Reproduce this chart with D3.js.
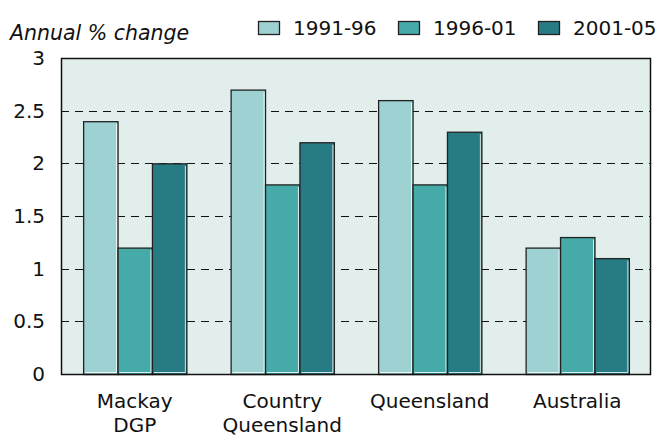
<!DOCTYPE html>
<html>
<head>
<meta charset="utf-8">
<script src="https://cdn.jsdelivr.net/npm/d3@7"></script>
<style>
  body { margin: 0; background: #fff; }
  text { font-family: "DejaVu Sans", sans-serif; fill: #111; }
</style>
</head>
<body>
<svg width="659" height="437"></svg>
<script>
const categories = [["Mackay", "DGP"], ["Country", "Queensland"], ["Queensland"], ["Australia"]];
const seriesNames = ["1991-96", "1996-01", "2001-05"];
const s1991 = [2.4, 2.7, 2.6, 1.2];
const s1996 = [1.2, 1.8, 1.8, 1.3];
const s2001 = [2.0, 2.2, 2.3, 1.1];
const yTicks = [0, 0.5, 1, 1.5, 2, 2.5, 3];
const colors = ["#9ed1d1", "#45aaa8", "#277c84"];

const series = [s1991, s1996, s2001];
const margin = {left: 61, right: 8, top: 58, bottom: 63};
const width = 659 - margin.left - margin.right;
const height = 437 - margin.top - margin.bottom;

const svg = d3.select("svg");
const g = svg.append("g").attr("transform", `translate(${margin.left},${margin.top})`);

const x0 = d3.scaleBand().domain(d3.range(categories.length)).range([0, width]).paddingInner(0.3).paddingOuter(0.15);
const x1 = d3.scaleBand().domain(d3.range(seriesNames.length)).range([0, x0.bandwidth()]);
const y = d3.scaleLinear().domain([0, 3]).range([height, 0]);

// fundo
g.append("rect").attr("width", width).attr("height", height).attr("fill", "#e1eeec");

// grelha tracejada
g.selectAll("line.grid").data(yTicks.filter(d => d > 0 && d < 3)).enter()
  .append("line")
  .attr("x1", 0).attr("x2", width)
  .attr("y1", d => Math.round(y(d)) + 0.5).attr("y2", d => Math.round(y(d)) + 0.5)
  .attr("stroke", "#111").attr("stroke-dasharray", "8,6");

// barras
categories.forEach((c, i) => {
  series.forEach((s, j) => {
    const bx = x0(i) + x1(j), bw = x1.bandwidth();
    g.append("rect")
      .attr("x", bx + 0.5).attr("y", y(s[i]) + 0.5)
      .attr("width", bw).attr("height", height - y(s[i]))
      .attr("fill", colors[j]).attr("stroke", "#222").attr("stroke-width", 1.3);
    // reflexo branco no lado direito e em baixo
    g.append("path")
      .attr("d", `M${bx + bw - 1},${y(s[i]) + 2.5}V${height - 1.5}H${bx + 2}`)
      .attr("fill", "none").attr("stroke", "#fff").attr("stroke-width", 1).attr("opacity", 0.8);
  });
});

// moldura
g.append("rect").attr("x", 0.5).attr("y", 0.5).attr("width", width - 1).attr("height", height)
  .attr("fill", "none").attr("stroke", "#111").attr("stroke-width", 1.5);

// eixo Y
const yAxis = d3.axisLeft(y).tickValues(yTicks).tickSize(0).tickPadding(16).tickFormat(d => d);
const ya = g.append("g").call(yAxis);
ya.select(".domain").remove();
ya.selectAll("text").style("font-size", "20px").attr("fill", "#111").attr("font-family", "DejaVu Sans");

// rótulos das categorias
categories.forEach((c, i) => {
  const t = g.append("text")
    .attr("x", x0(i) + x0.bandwidth() / 2)
    .attr("y", height + 34)
    .attr("text-anchor", "middle")
    .style("font-size", "20px");
  c.forEach((line, k) => t.append("tspan").attr("x", x0(i) + x0.bandwidth() / 2).attr("dy", k ? 24 : 0).text(line));
});

// título do eixo
svg.append("text").attr("x", 10).attr("y", 40)
  .style("font-size", "20.5px").style("font-style", "italic").text("Annual % change");

// legenda
const legX = [258, 398, 538];
const leg = svg.append("g");
seriesNames.forEach((n, j) => {
  leg.append("rect").attr("x", legX[j] + 0.5).attr("y", 21.5).attr("width", 21).attr("height", 13)
    .attr("fill", colors[j]).attr("stroke", "#222").attr("stroke-width", 1.3);
  leg.append("text").attr("x", legX[j] + 35).attr("y", 35).style("font-size", "20px").text(n);
});
</script>
</body>
</html>
